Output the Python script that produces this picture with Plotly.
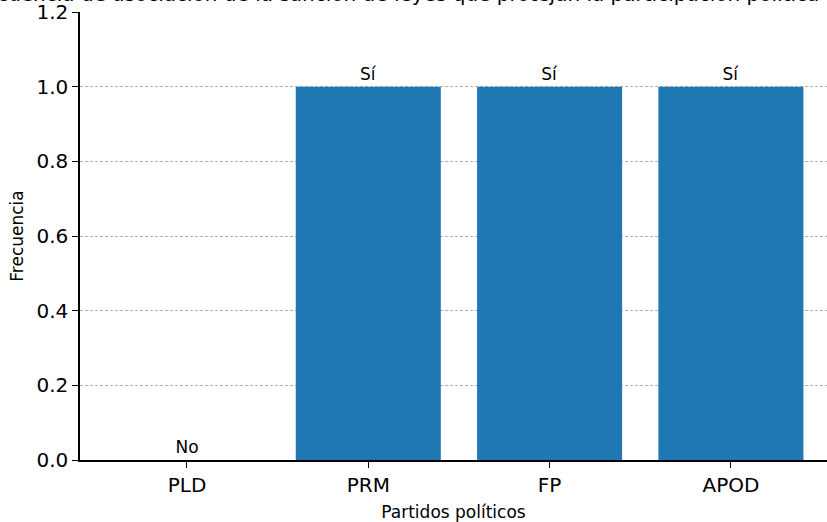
import plotly.graph_objects as go

partidos = ["PLD", "PRM", "FP", "APOD"]
frecuencia = [0, 1, 1, 1]
etiquetas = ["No", "Sí", "Sí", "Sí"]
titulo = "Frecuencia de asociación de la sanción de leyes que protejan la participación política de la mujer"

FONT = "DejaVu Sans"
x_idx = list(range(len(partidos)))

fig = go.Figure()
fig.add_trace(go.Bar(
    x=x_idx, y=frecuencia, width=0.8,
    marker=dict(color="#1f77b4", line=dict(width=0)),
    text=etiquetas, textposition="outside",
    textfont=dict(family=FONT, size=17, color="black"),
    cliponaxis=False,
))

fig.update_layout(
    width=827, height=522,
    margin=dict(l=80, r=0, t=12, b=62),
    paper_bgcolor="white", plot_bgcolor="white",
    showlegend=False,
    font=dict(family=FONT, color="black"),
    bargap=0.2,
)
fig.update_xaxes(
    tickmode="array", tickvals=x_idx, ticktext=partidos,
    range=[-0.59, 3.53],
    showline=True, linecolor="black", linewidth=1.5,
    ticks="outside", ticklen=6, tickwidth=1.3, tickcolor="black",
    tickfont=dict(family=FONT, size=20),
    showgrid=False, zeroline=False,
    title=dict(text="Partidos políticos", font=dict(family=FONT, size=17), standoff=11),
)
fig.update_yaxes(
    range=[0, 1.2], tickvals=[0, 0.2, 0.4, 0.6, 0.8, 1.0, 1.2],
    ticktext=["0.0", "0.2", "0.4", "0.6", "0.8", "1.0", "1.2"],
    showline=True, linecolor="black", linewidth=1.5,
    ticks="outside", ticklen=6, tickwidth=1.3, tickcolor="black",
    tickfont=dict(family=FONT, size=20), ticklabeloverflow="allow",
    showgrid=True, gridcolor="#b0b0b0", griddash="3px,2px", gridwidth=0.8,
    zeroline=False,
    title=dict(text="Frecuencia", font=dict(family=FONT, size=17), standoff=8),
)
fig.add_annotation(
    text=titulo, xref="paper", yref="paper", x=0.5, y=1, xanchor="center",
    yanchor="bottom", yshift=4, showarrow=False,
    font=dict(family=FONT, size=20, color="black"),
)
fig.write_html("out.html", config={"displayModeBar": False},
               post_script="document.body.style.margin='0px';")
